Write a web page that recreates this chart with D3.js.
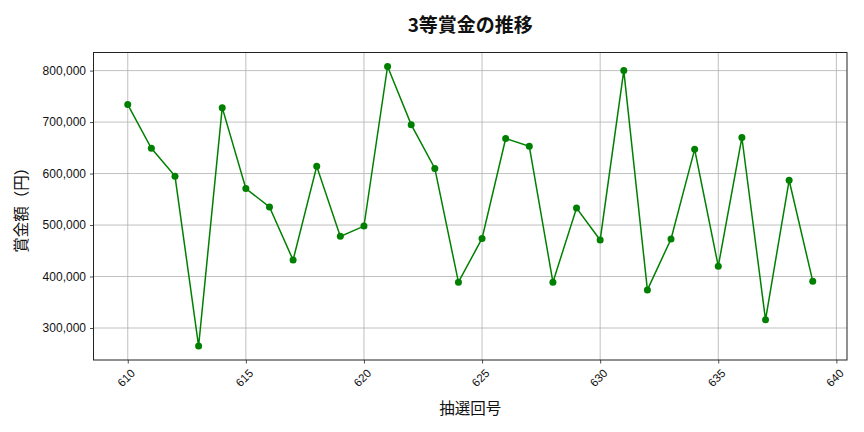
<!DOCTYPE html>
<html>
<head>
<meta charset="utf-8">
<script src="https://cdn.jsdelivr.net/npm/d3@7"></script>
<style>
  body { margin: 0; background: #fff; }
  svg { font-family: "Noto Sans CJK JP", "Noto Sans", sans-serif; }
</style>
</head>
<body>
<svg id="chart" width="864" height="432"></svg>
<script>
// draw numbers (回号) and 3rd prize amounts in yen
let drawNos = d3.range(610, 640);
let prizes = [
    734000, 649000, 595000, 265000, 728000, 571000, 535000, 432000, 614000, 478000,
    498000, 808000, 695000, 610000, 389000, 474000, 668000, 653000, 389000, 533000,
    471000, 800000, 374000, 473000, 647000, 420000, 670000, 316000, 587000, 391000
];
let xTicks = [610, 615, 620, 625, 630, 635, 640];
let yTicks = [300000, 400000, 500000, 600000, 700000, 800000];

let titleText = "3等賞金の推移";
let xLabel = "抽選回号";
let yLabel = "賞金額（円）";

let margin = {left: 93.5, right: 17, top: 52.5, bottom: 72};
let width = 864, height = 432;

let svg = d3.select('#chart');

// matplotlib-like 5% padding around the data
let xMin = d3.min(drawNos), xMax = d3.max(drawNos);
let xPad = (xMax - xMin) * 0.05;
let yMin = d3.min(prizes), yMax = d3.max(prizes);
let yPad = (yMax - yMin) * 0.05;

let x = d3.scaleLinear()
    .domain([xMin - xPad, xMax + xPad])
    .range([margin.left, width - margin.right]);

let y = d3.scaleLinear()
    .domain([yMin - yPad, yMax + yPad])
    .range([height - margin.bottom, margin.top]);

let plotBottom = height - margin.bottom;
let plotRight = width - margin.right;

// grid
let grid = svg.append('g').attr('class', 'grid');
grid.selectAll('line.vx')
    .data(xTicks)
    .enter().append('line').classed('vx', true)
    .attr('x1', d => x(d)).attr('x2', d => x(d))
    .attr('y1', margin.top).attr('y2', plotBottom)
    .attr('stroke', '#b0b0b0').attr('stroke-width', 0.8);
grid.selectAll('line.hy')
    .data(yTicks)
    .enter().append('line').classed('hy', true)
    .attr('x1', margin.left).attr('x2', plotRight)
    .attr('y1', d => y(d)).attr('y2', d => y(d))
    .attr('stroke', '#b0b0b0').attr('stroke-width', 0.8);

// axes
let xAxis = d3.axisBottom(x).tickValues(xTicks).tickSize(3.5).tickFormat(d3.format('d'));
let gx = svg.append('g')
    .attr('transform', `translate(0,${plotBottom})`)
    .call(xAxis);
gx.select('.domain').remove();
gx.selectAll('.tick line').attr('stroke', '#222').attr('stroke-width', 0.8);
gx.selectAll('.tick text')
    .attr('fill', '#111')
    .style('font-size', '11.5px')
    .attr('text-anchor', 'middle')
    .attr('dominant-baseline', 'central')
    .attr('y', 0).attr('dy', null)
    .attr('transform', 'translate(-2,18) rotate(-45)');

let yAxis = d3.axisLeft(y).tickValues(yTicks).tickSize(3.5).tickPadding(4).tickFormat(d3.format(','));
let gy = svg.append('g')
    .attr('transform', `translate(${margin.left},0)`)
    .call(yAxis);
gy.select('.domain').remove();
gy.selectAll('.tick line').attr('stroke', '#222').attr('stroke-width', 0.8);
gy.selectAll('.tick text').attr('fill', '#111').style('font-size', '12px');

// frame
svg.append('rect')
    .attr('x', margin.left).attr('y', margin.top)
    .attr('width', plotRight - margin.left)
    .attr('height', plotBottom - margin.top)
    .attr('fill', 'none')
    .attr('stroke', '#222').attr('stroke-width', 1);

// series
let points = drawNos.map((n, i) => ({n: n, v: prizes[i]}));

let line = d3.line()
    .x(d => x(d.n))
    .y(d => y(d.v));

svg.append('path')
    .datum(points)
    .attr('d', line)
    .attr('fill', 'none')
    .attr('stroke', 'green')
    .attr('stroke-width', 1.5);

svg.selectAll('circle.pt')
    .data(points)
    .enter().append('circle').classed('pt', true)
    .attr('cx', d => x(d.n))
    .attr('cy', d => y(d.v))
    .attr('r', 3.5)
    .attr('fill', 'green');

// labels
let cx = (margin.left + plotRight) / 2;
svg.append('text')
    .attr('x', cx).attr('y', 32)
    .attr('text-anchor', 'middle')
    .style('font-size', '19px').style('font-weight', 'bold')
    .attr('fill', '#111')
    .text(titleText);

svg.append('text')
    .attr('x', cx).attr('y', 414)
    .attr('text-anchor', 'middle')
    .style('font-size', '15.5px')
    .attr('fill', '#111')
    .text(xLabel);

svg.append('text')
    .attr('transform', `translate(27,${(margin.top + plotBottom) / 2}) rotate(-90)`)
    .attr('text-anchor', 'middle')
    .style('font-size', '15.5px')
    .attr('fill', '#111')
    .text(yLabel);
</script>
</body>
</html>
